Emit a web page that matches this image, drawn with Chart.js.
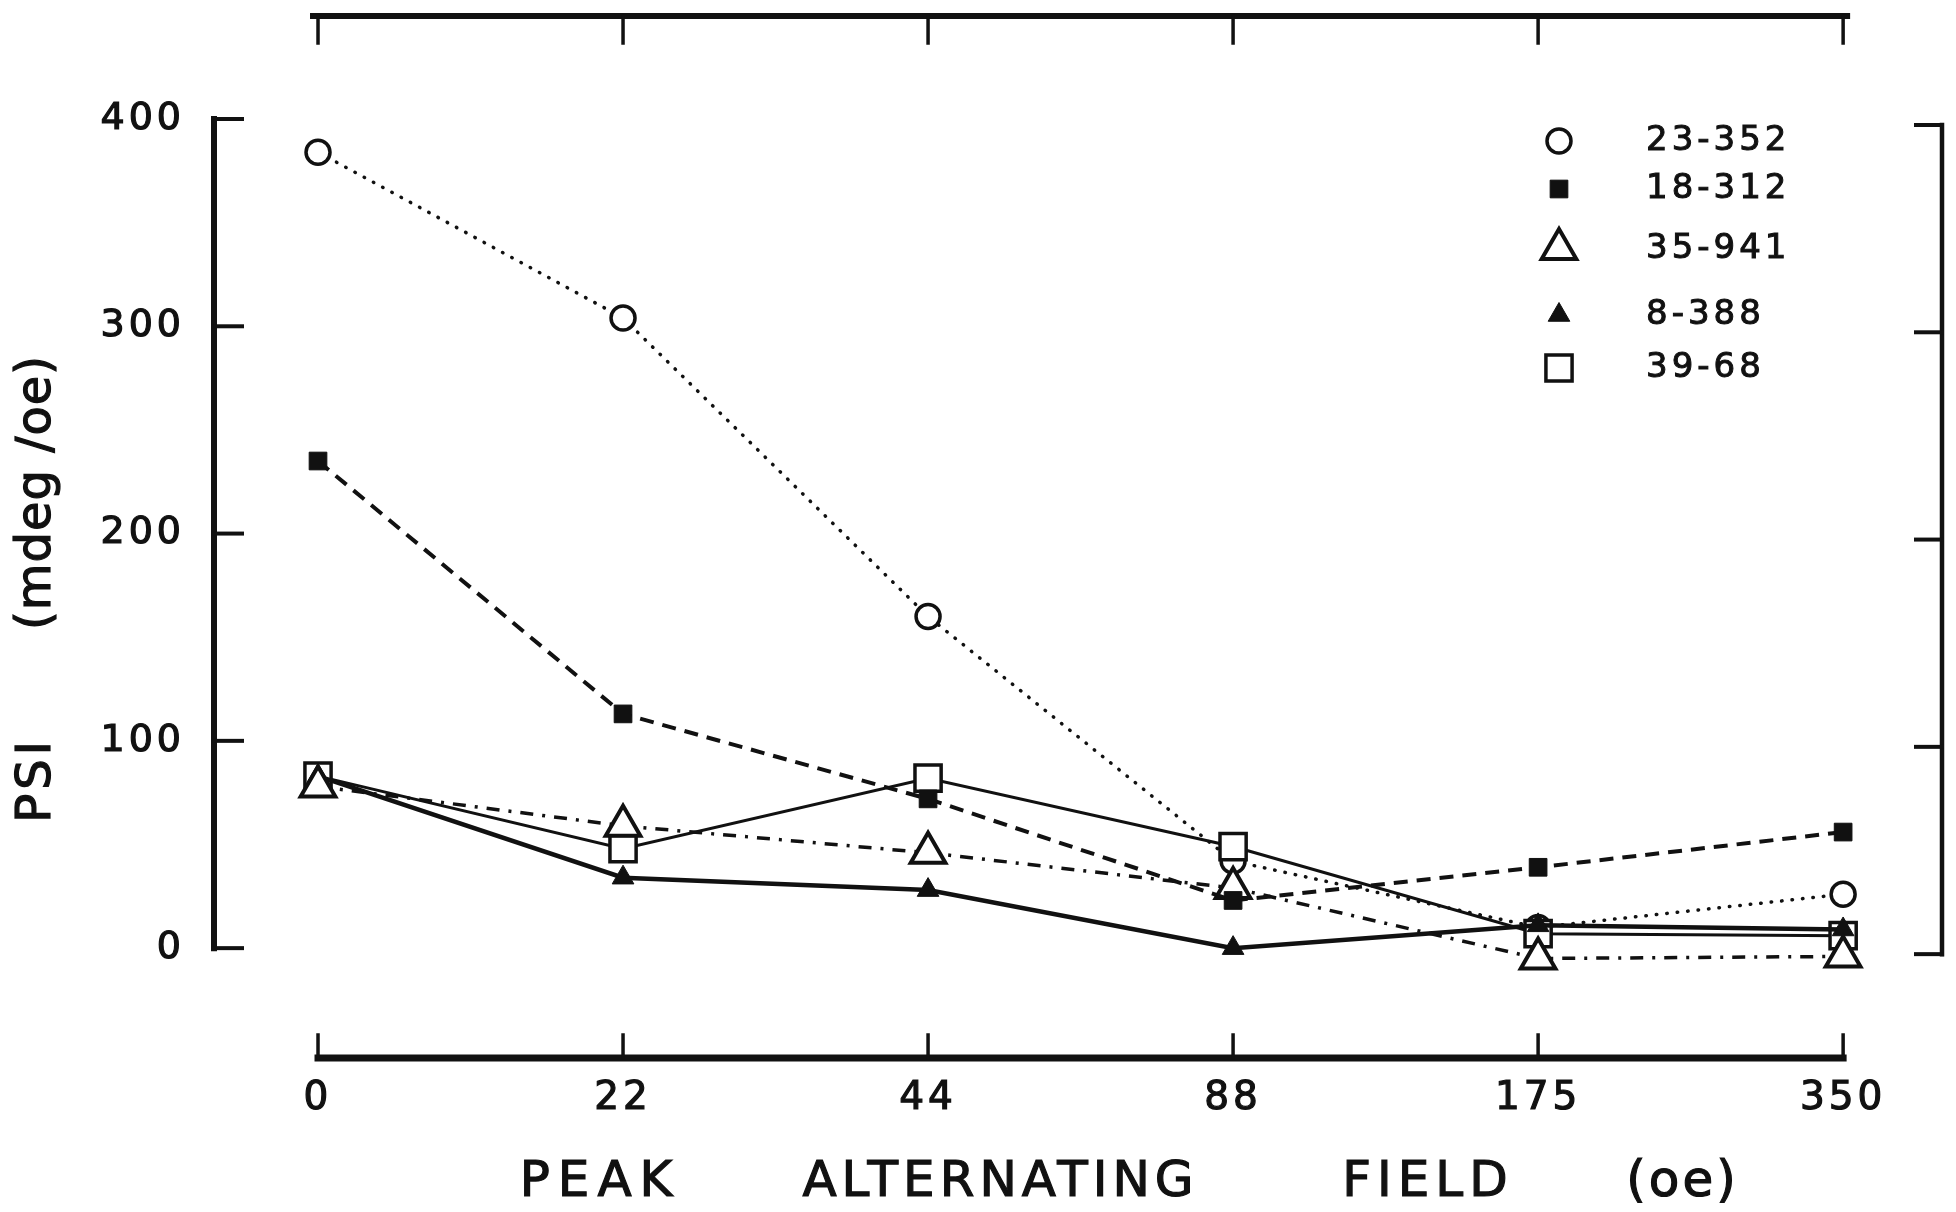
<!DOCTYPE html>
<html>
<head>
<meta charset="utf-8">
<title>PSI vs peak alternating field</title>
<script src="https://cdn.jsdelivr.net/npm/chart.js@4.4.1/dist/chart.umd.min.js"></script>
<style>
  html, body { margin: 0; padding: 0; background: #fff; overflow: hidden; }
  #wrap { width: 1956px; height: 1212px; }
  canvas { display: block; }
</style>
</head>
<body>
<div id="wrap"><canvas id="psiChart"></canvas></div>
<script>
// demagnetisation steps (oe) and PSI readings (mdeg/oe) per sample
const fieldLabels = ['0', '22', '44', '88', '175', '350'];
const psiTicks = [0, 100, 200, 300, 400];

const sample23_352 = [384, 304, 160, 42, 10, 26];
const sample18_312 = [235, 113, 72, 23, 39, 56];
const sample35_941 = [78, 59, 46, 29, -5, -4];
const sample8_388 = [83, 34, 28, 0, 11, 9];
const sample39_68 = [83, 48, 82, 49, 7, 6];

const ink = '#111';
const paper = '#fff';

function points(values) {
  return values.map((v, i) => ({ x: i, y: v }));
}

const datasets = [
  {
    label: '23-352', data: points(sample23_352), order: 1,
    borderWidth: 3.5, borderDash: [0.5, 10], borderCapStyle: 'round',
    pointStyle: 'circle', pointRadius: 12, pointBorderWidth: 3.5, pointBackgroundColor: paper
  },
  {
    label: '18-312', data: points(sample18_312),
    borderWidth: 4, borderDash: [14, 9],
    pointStyle: 'rect', pointRadius: 12.5, pointBorderWidth: 1, pointBackgroundColor: ink
  },
  {
    label: '35-941', data: points(sample35_941),
    borderWidth: 3.5, borderDash: [13, 9, 3, 9],
    pointStyle: 'triangle', pointRadius: 20, pointBorderWidth: 4, pointBackgroundColor: paper
  },
  {
    label: '8-388', data: points(sample8_388),
    borderWidth: 4.5,
    pointStyle: 'triangle', pointRadius: 12.5, pointBorderWidth: 1, pointBackgroundColor: ink
  },
  {
    label: '39-68', data: points(sample39_68),
    borderWidth: 3,
    pointStyle: 'rect', pointRadius: 18.5, pointBorderWidth: 3.5, pointBackgroundColor: paper
  }
].map(ds => Object.assign({
  borderColor: ink, pointBorderColor: ink, tension: 0, clip: false, fill: false
}, ds));

// legend rows in the upper right corner
const legendX = 1559;
const legendTextX = 1646;
const legendRows = [141, 189, 249, 315, 368];

function line(ctx, x1, y1, x2, y2) {
  ctx.beginPath();
  ctx.moveTo(x1, y1);
  ctx.lineTo(x2, y2);
  ctx.stroke();
}

// lettering is a bit heavier than the plain font, so outline it too
function spacedText(ctx, text, x, y, spacing) {
  ctx.letterSpacing = spacing + 'px';
  const shift = ctx.textAlign === 'center' ? spacing / 2 : 0;
  ctx.fillText(text, x + shift, y);
  ctx.strokeText(text, x + shift, y);
}

const framePlugin = {
  id: 'frame',
  beforeDraw(chart) {
    chart.ctx.letterSpacing = '4px';
  },
  beforeDatasetsDraw(chart) {
    const { ctx, chartArea, scales: { x, y } } = chart;
    ctx.save();
    ctx.strokeStyle = ink;
    ctx.lineCap = 'square';

    // left axis, ticks pointing inwards
    const left = chartArea.left;
    ctx.lineWidth = 6;
    line(ctx, left, y.getPixelForValue(400), left, y.getPixelForValue(0));
    ctx.lineWidth = 4;
    psiTicks.forEach(v => line(ctx, left, y.getPixelForValue(v), left + 28, y.getPixelForValue(v)));

    // right axis
    const right = chartArea.right - 3;
    const shift = 6;
    ctx.lineWidth = 4.5;
    line(ctx, right, y.getPixelForValue(400) + shift, right, y.getPixelForValue(0) + shift);
    ctx.lineWidth = 4;
    psiTicks.forEach(v => line(ctx, right, y.getPixelForValue(v) + shift, right - 26, y.getPixelForValue(v) + shift));

    // bottom field axis
    const bottom = chartArea.bottom;
    const first = x.getPixelForValue(0);
    const last = x.getPixelForValue(fieldLabels.length - 1);
    ctx.lineWidth = 7;
    line(ctx, first, bottom, last, bottom);
    ctx.lineWidth = 3.5;
    fieldLabels.forEach((_, i) => line(ctx, x.getPixelForValue(i), bottom, x.getPixelForValue(i), bottom - 23));

    // top field axis
    const top = 16;
    ctx.lineWidth = 6;
    line(ctx, first - 5, top, last + 4, top);
    ctx.lineWidth = 3.5;
    fieldLabels.forEach((_, i) => line(ctx, x.getPixelForValue(i), top, x.getPixelForValue(i), top + 27));
    ctx.restore();
  },
  afterDraw(chart) {
    const { ctx } = chart;
    ctx.save();
    ctx.fillStyle = ink;
    ctx.strokeStyle = ink;
    ctx.lineWidth = 1.2;
    ctx.textAlign = 'center';
    ctx.textBaseline = 'middle';

    // x axis title, words spread out under the scale
    ctx.font = '50px "DejaVu Sans"';
    spacedText(ctx, 'PEAK', 596, 1183, 8);
    spacedText(ctx, 'ALTERNATING', 998, 1183, 5);
    spacedText(ctx, 'FIELD', 1425, 1183, 6);
    spacedText(ctx, '(oe)', 1681, 1183, 3);

    // y axis title
    ctx.save();
    ctx.translate(38, 589);
    ctx.rotate(-Math.PI / 2);
    ctx.font = '48px "DejaVu Sans"';
    spacedText(ctx, 'PSI', -193, 0, 4);
    spacedText(ctx, '(mdeg /oe)', 96, 0, 1);
    ctx.restore();

    // legend
    ctx.font = '34px "DejaVu Sans"';
    ctx.textAlign = 'left';
    datasets.forEach((ds, i) => {
      const yRow = legendRows[i];
      ctx.fillStyle = ds.pointBackgroundColor;
      ctx.lineWidth = ds.pointBorderWidth;
      ctx.setLineDash([]);
      Chart.helpers.drawPoint(ctx, {
        pointStyle: ds.pointStyle,
        radius: ds.pointRadius,
        rotation: 0,
        borderWidth: ds.pointBorderWidth
      }, legendX, yRow);
      ctx.fillStyle = ink;
      ctx.lineWidth = 1;
      spacedText(ctx, ds.label, legendTextX, yRow, 4);
    });
    ctx.restore();
  }
};

Chart.defaults.font.family = '"DejaVu Sans", sans-serif';
Chart.defaults.color = ink;

new Chart('psiChart', {
  type: 'line',
  data: { datasets: datasets },
  options: {
    responsive: true,
    maintainAspectRatio: false,
    animation: false,
    devicePixelRatio: 1,
    layout: {
      autoPadding: false,
      padding: { top: 119, right: 11, left: 0, bottom: 0 }
    },
    plugins: {
      legend: { display: false },
      tooltip: { enabled: false }
    },
    scales: {
      x: {
        type: 'linear',
        position: 'bottom',
        min: -0.341,
        max: 5.334,
        grid: { display: false, drawTicks: false },
        border: { display: false },
        ticks: {
          font: { size: 39 },
          padding: 17,
          maxRotation: 0,
          textStrokeColor: ink,
          textStrokeWidth: 1.2,
          callback: v => fieldLabels[v]
        },
        afterBuildTicks: scale => {
          scale.ticks = fieldLabels.map((_, i) => ({ value: i }));
        },
        afterFit: scale => {
          scale.height = 154;
          scale.paddingLeft = 0;
          scale.paddingRight = 0;
        }
      },
      y: {
        type: 'linear',
        position: 'left',
        min: -53,
        max: 400,
        grid: { display: false, drawTicks: false },
        border: { display: false },
        ticks: {
          font: { size: 38 },
          padding: 29,
          textStrokeColor: ink,
          textStrokeWidth: 1.2
        },
        afterBuildTicks: scale => {
          scale.ticks = psiTicks.map(v => ({ value: v }));
        },
        afterFit: scale => {
          scale.width = 214;
          scale.paddingTop = 0;
          scale.paddingBottom = 0;
        }
      }
    }
  },
  plugins: [framePlugin]
});
</script>
</body>
</html>
